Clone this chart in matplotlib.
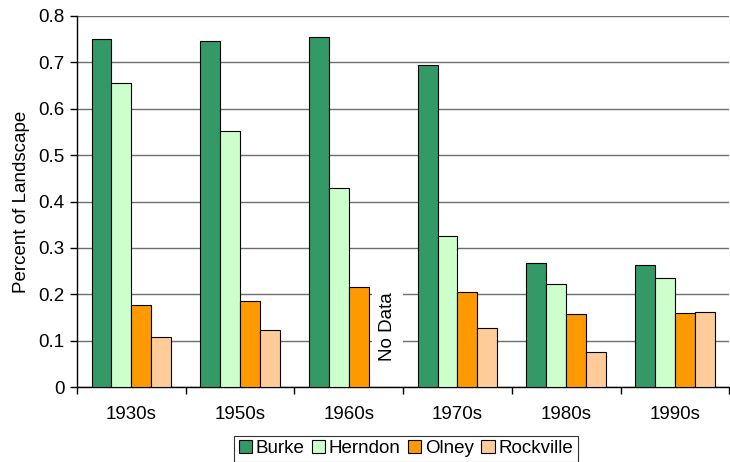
import numpy as np
import matplotlib.pyplot as plt
from matplotlib.ticker import FixedLocator

plt.rcParams['font.family'] = ['Liberation Sans', 'DejaVu Sans']

decades = ["1930s", "1950s", "1960s", "1970s", "1980s", "1990s"]
burke = [0.750, 0.745, 0.754, 0.694, 0.267, 0.264]
herndon = [0.655, 0.551, 0.429, 0.326, 0.222, 0.236]
olney = [0.176, 0.185, 0.215, 0.205, 0.157, 0.159]
rockville = [0.107, 0.123, np.nan, 0.128, 0.076, 0.161]   # no 1960s value

series = [("Burke", burke, "#339966"),
          ("Herndon", herndon, "#CCFFCC"),
          ("Olney", olney, "#FF9900"),
          ("Rockville", rockville, "#FFCC99")]

fs = 13.5

fig = plt.figure(figsize=(7.3, 4.62), dpi=100)
ax = fig.add_axes([0.1055, 0.1623, 0.8935, 0.8031])

x = np.arange(len(decades))
w = 0.183
for i, (name, vals, col) in enumerate(series):
    ax.bar(x + (i - 1.5) * w, vals, w, color=col, edgecolor="black",
           linewidth=0.8, label=name, zorder=3)

# missing Rockville bar for the 1960s
ax.text(x[2] + 1.5 * w + 0.08, 0.13, "No Data", rotation=90, ha="center",
        va="center", fontsize=fs, zorder=4,
        bbox=dict(facecolor="white", edgecolor="none", pad=5))

ax.set_xlim(-0.5, len(decades) - 0.5)
ax.set_ylim(0, 0.8)
ax.set_yticks(np.arange(0, 0.81, 0.1))
ax.set_yticklabels(["0"] + ["%.1f" % v for v in np.arange(0.1, 0.81, 0.1)])
ax.grid(axis="y", color="#6e6e6e", linewidth=1, zorder=0)

ax.xaxis.set_major_locator(FixedLocator(np.arange(-0.5, len(decades), 1.0)))
ax.xaxis.set_minor_locator(FixedLocator(x))
ax.set_xticklabels([], minor=False)
ax.set_xticklabels(decades, minor=True)
ax.tick_params(axis="x", which="major", length=5, width=1)
ax.tick_params(axis="x", which="minor", length=0, pad=14, labelsize=fs)
ax.tick_params(axis="y", length=5, width=1, pad=4, labelsize=fs)

for s in ["top", "right"]:
    ax.spines[s].set_visible(False)
ax.spines["left"].set_linewidth(1)
ax.spines["bottom"].set_linewidth(1)

ax.set_ylabel("Percent of Landscape", fontsize=fs, labelpad=6)

leg = fig.legend(loc="lower center", bbox_to_anchor=(0.556, 0.0), ncol=4,
                 fontsize=fs, frameon=True, fancybox=False, handlelength=0.7,
                 handleheight=0.7, handletextpad=0.2, columnspacing=0.4,
                 borderpad=0.25, borderaxespad=0)
leg.get_frame().set_edgecolor("black")
leg.get_frame().set_linewidth(0.8)

fig.savefig("out.png", dpi=100)
